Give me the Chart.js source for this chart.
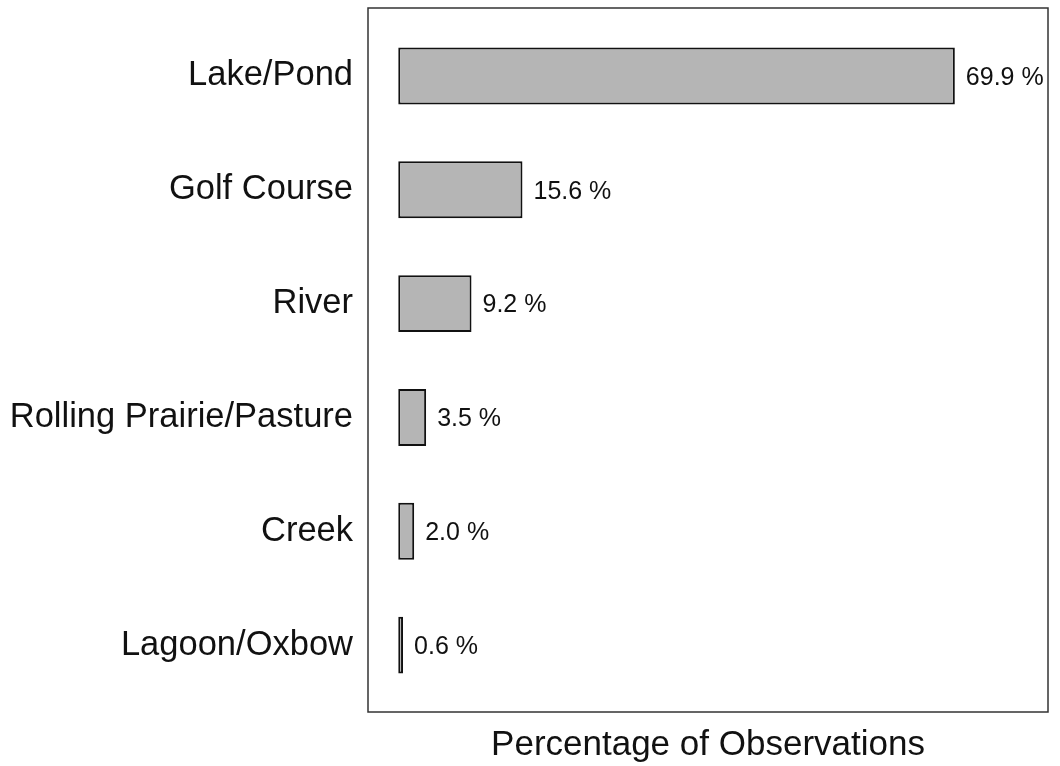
<!DOCTYPE html>
<html>
<head>
<meta charset="utf-8">
<script src="https://cdn.jsdelivr.net/npm/chart.js@4/dist/chart.umd.min.js"></script>
<style>
  html, body { margin: 0; padding: 0; background: #fff; }
  #wrap { width: 1060px; height: 766px; position: relative; }
</style>
</head>
<body>
<div id="wrap"><canvas id="chart"></canvas></div>
<script>
const categories = ["Lake/Pond", "Golf Course", "River", "Rolling Prairie/Pasture", "Creek", "Lagoon/Oxbow"];
const percents = [69.9, 15.6, 9.2, 3.5, 2.0, 0.6];
const axisTitle = "Percentage of Observations";

// frame around the plot + value labels next to each bar
const framePlugin = {
    id: "frame",
    afterDatasetsDraw(chart) {
        const c = chart.ctx;
        const area = chart.chartArea;
        c.save();
        c.strokeStyle = "#333";
        c.lineWidth = 1.5;
        c.strokeRect(area.left, area.top - 11, area.right - area.left, area.bottom - area.top + 21);

        const meta = chart.getDatasetMeta(0);
        c.fillStyle = "#111";
        c.font = "25px 'Liberation Sans', Arial, sans-serif";
        c.textAlign = "left";
        c.textBaseline = "middle";
        meta.data.forEach((bar, i) => {
            c.fillText(percents[i].toFixed(1) + " %", bar.x + 11, bar.y + 2);
        });
        c.restore();
    },
};

new Chart(document.getElementById("chart").getContext("2d"), {
    type: "bar",
    data: {
        labels: categories,
        datasets: [
            {
                data: percents,
                backgroundColor: "#b5b5b5",
                borderColor: "#111",
                borderWidth: 2,
                borderSkipped: false,
                barPercentage: 0.5,
                categoryPercentage: 1,
            },
        ],
    },
    options: {
        indexAxis: "y",
        responsive: true,
        maintainAspectRatio: false,
        animation: false,
        layout: { padding: { top: 19, right: 12, left: 0, bottom: 0 } },
        plugins: { legend: { display: false }, tooltip: { enabled: false } },
        scales: {
            x: {
                min: -3.8,
                max: 81.6,
                grid: { display: false },
                border: { display: false },
                ticks: { display: false },
                title: {
                    display: true,
                    text: axisTitle,
                    color: "#111",
                    font: { family: "'Liberation Sans', Arial, sans-serif", size: 35 },
                    padding: { top: 0, bottom: 0 },
                },
                afterFit(scale) { scale.height = 64; },
            },
            y: {
                grid: { display: false },
                border: { display: false },
                ticks: {
                    color: "#111",
                    padding: 7,
                    font: { family: "'Liberation Sans', Arial, sans-serif", size: 34.5 },
                },
                afterFit(scale) {
                    scale.width = 368;
                    scale.paddingTop = 0;
                    scale.paddingBottom = 0;
                },
            },
        },
    },
    plugins: [framePlugin],
});
</script>
</body>
</html>
